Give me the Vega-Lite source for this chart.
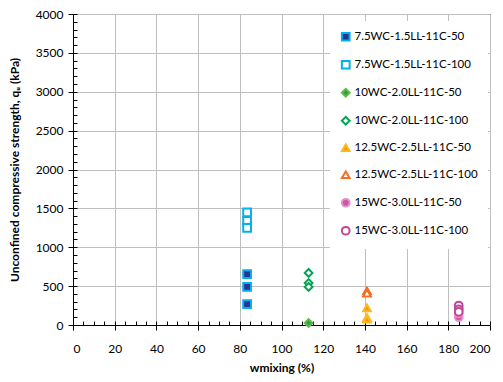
{
  "$schema": "https://vega.github.io/schema/vega-lite/v6.json",
  "autosize": {"type": "none"},
  "width": 417,
  "height": 311,
  "padding": {"left": 73, "top": 14, "right": 13, "bottom": 57},
  "background": "white",
  "config": {
    "view": {"stroke": "black", "strokeWidth": 1},
    "font": "Lato",
    "axis": {"labelFont": "Lato", "titleFont": "Lato", "labelFontSize": 12, "labelColor": "black", "titleColor": "black", "domainColor": "black", "tickColor": "black", "gridColor": "#BFBFBF", "gridWidth": 1, "format": "d"}
  },
  "data": {"values": [
    {"s": "7.5WC-1.5LL-11C-50", "x": 83.5, "y": 655},
    {"s": "7.5WC-1.5LL-11C-50", "x": 83.5, "y": 490},
    {"s": "7.5WC-1.5LL-11C-50", "x": 83.5, "y": 270},
    {"s": "7.5WC-1.5LL-11C-100", "x": 83.5, "y": 1450},
    {"s": "7.5WC-1.5LL-11C-100", "x": 83.5, "y": 1340},
    {"s": "7.5WC-1.5LL-11C-100", "x": 83.5, "y": 1250},
    {"s": "10WC-2.0LL-11C-50", "x": 113, "y": 25},
    {"s": "10WC-2.0LL-11C-100", "x": 113, "y": 670},
    {"s": "10WC-2.0LL-11C-100", "x": 113, "y": 540},
    {"s": "10WC-2.0LL-11C-100", "x": 113, "y": 490},
    {"s": "12.5WC-2.5LL-11C-50", "x": 141, "y": 220},
    {"s": "12.5WC-2.5LL-11C-50", "x": 141, "y": 95},
    {"s": "12.5WC-2.5LL-11C-50", "x": 141, "y": 75},
    {"s": "12.5WC-2.5LL-11C-100", "x": 141, "y": 440},
    {"s": "12.5WC-2.5LL-11C-100", "x": 141, "y": 410},
    {"s": "15WC-3.0LL-11C-50", "x": 185, "y": 100},
    {"s": "15WC-3.0LL-11C-50", "x": 185, "y": 150},
    {"s": "15WC-3.0LL-11C-50", "x": 185, "y": 220},
    {"s": "15WC-3.0LL-11C-100", "x": 185, "y": 250},
    {"s": "15WC-3.0LL-11C-100", "x": 185, "y": 200},
    {"s": "15WC-3.0LL-11C-100", "x": 185, "y": 170}
  ]},
  "layer": [
    {
      "mark": {"type": "point", "size": 60, "strokeWidth": 2, "opacity": 1, "filled": false},
      "encoding": {
        "x": {"field": "x", "type": "quantitative", "scale": {"domain": [0, 200], "nice": false},
          "axis": {"orient": "bottom", "values": [0, 20, 40, 60, 80, 100, 120, 140, 160, 180, 200], "tickSize": 5, "labelPadding": 13, "grid": true, "title": "wmixing (%)", "titleFontSize": 12, "titleFontWeight": "bold", "titlePadding": 8}},
        "y": {"field": "y", "type": "quantitative", "scale": {"domain": [0, 4000], "nice": false},
          "axis": {"orient": "left", "values": [0, 500, 1000, 1500, 2000, 2500, 3000, 3500, 4000], "tickSize": 5, "labelPadding": 5, "grid": true, "title": "Unconfined compressive strength, qᵤ (kPa)", "titleFontSize": 12, "titleFontWeight": "bold", "titlePadding": 14}},
        "shape": {"field": "s", "type": "nominal",
          "scale": {"domain": ["7.5WC-1.5LL-11C-50", "7.5WC-1.5LL-11C-100", "10WC-2.0LL-11C-50", "10WC-2.0LL-11C-100", "12.5WC-2.5LL-11C-50", "12.5WC-2.5LL-11C-100", "15WC-3.0LL-11C-50", "15WC-3.0LL-11C-100"],
            "range": ["square", "square", "diamond", "diamond", "triangle-up", "triangle-up", "circle", "circle"]},
          "legend": {"title": null, "orient": "none", "legendX": 257, "legendY": 7, "fillColor": "white", "padding": 10, "labelFontSize": 11.5, "labelFont": "Lato", "labelOffset": 3, "rowPadding": 11, "symbolSize": 60, "symbolStrokeWidth": 2, "labelLimit": 200, "offset": 0}},
        "stroke": {"field": "s", "type": "nominal",
          "scale": {"domain": ["7.5WC-1.5LL-11C-50", "7.5WC-1.5LL-11C-100", "10WC-2.0LL-11C-50", "10WC-2.0LL-11C-100", "12.5WC-2.5LL-11C-50", "12.5WC-2.5LL-11C-100", "15WC-3.0LL-11C-50", "15WC-3.0LL-11C-100"],
            "range": ["#00B0F0", "#00B0F0", "#5DBB46", "#00A651", "#FFB81C", "#F36F21", "#E68FC8", "#C0449A"]},
          "legend": null},
        "fill": {"field": "s", "type": "nominal",
          "scale": {"domain": ["7.5WC-1.5LL-11C-50", "7.5WC-1.5LL-11C-100", "10WC-2.0LL-11C-50", "10WC-2.0LL-11C-100", "12.5WC-2.5LL-11C-50", "12.5WC-2.5LL-11C-100", "15WC-3.0LL-11C-50", "15WC-3.0LL-11C-100"],
            "range": ["#2E3192", "#FFFFFF", "#2E9E48", "#FFFFFF", "#F7941D", "#FFFFFF", "#D0559F", "#FFFFFF"]},
          "legend": null}
      }
    },
    {
      "mark": {"type": "point", "opacity": 0},
      "encoding": {
        "x": {"field": "x", "type": "quantitative", "scale": {"domain": [0, 200], "nice": false},
          "axis": {"orient": "bottom", "offset": -4, "values": [0,5,10,15,20,25,30,35,40,45,50,55,60,65,70,75,80,85,90,95,100,105,110,115,120,125,130,135,140,145,150,155,160,165,170,175,180,185,190,195,200], "tickSize": 4, "labels": false, "grid": false, "title": null, "domain": false}},
        "y": {"field": "y", "type": "quantitative", "scale": {"domain": [0, 4000], "nice": false},
          "axis": {"orient": "left", "offset": -4, "values": [0,100,200,300,400,500,600,700,800,900,1000,1100,1200,1300,1400,1500,1600,1700,1800,1900,2000,2100,2200,2300,2400,2500,2600,2700,2800,2900,3000,3100,3200,3300,3400,3500,3600,3700,3800,3900,4000], "tickSize": 4, "labels": false, "grid": false, "title": null, "domain": false}}
      }
    }
  ],
  "resolve": {"axis": {"x": "independent", "y": "independent"}}
}
